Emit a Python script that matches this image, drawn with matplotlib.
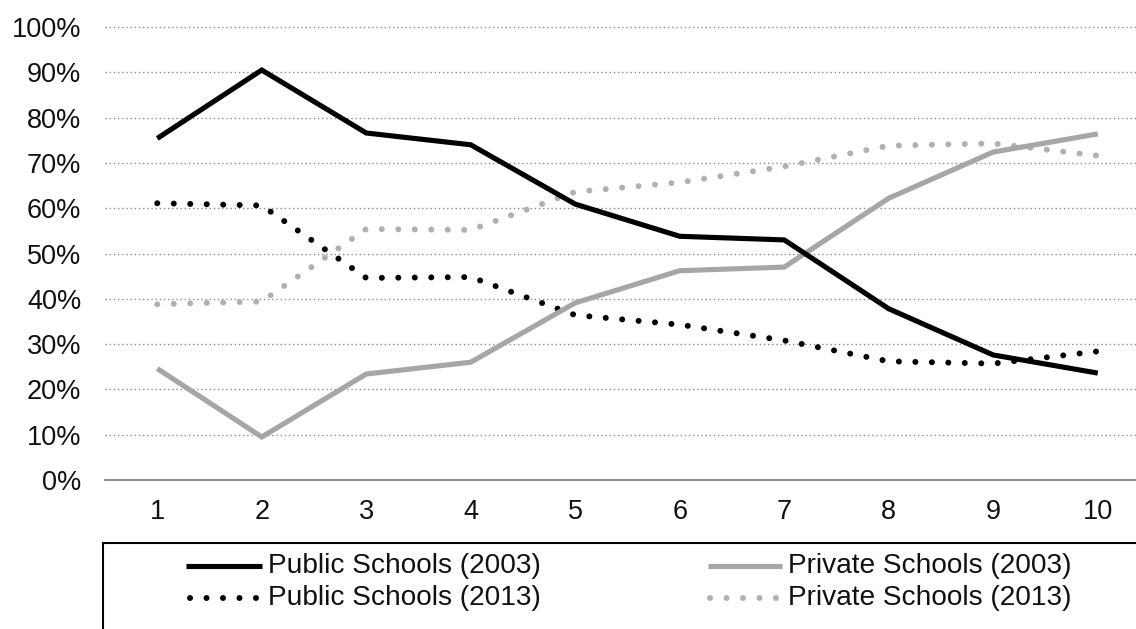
import matplotlib
matplotlib.use("Agg")
import matplotlib.pyplot as plt
from matplotlib.lines import Line2D
from matplotlib.patches import Rectangle

# Share of students by income decile, public vs private schools
deciles = ["1", "2", "3", "4", "5", "6", "7", "8", "9", "10"]
public_2003 = [75.4, 90.5, 76.6, 74.0, 60.9, 53.8, 53.0, 37.8, 27.6, 23.6]
private_2003 = [24.6, 9.5, 23.4, 26.0, 39.1, 46.2, 47.0, 62.2, 72.4, 76.4]
public_2013 = [61.1, 60.6, 44.6, 44.8, 36.4, 34.3, 30.8, 26.2, 25.7, 28.4]
private_2013 = [38.8, 39.4, 55.4, 55.2, 63.6, 65.7, 69.2, 73.8, 74.3, 71.6]
y_ticks = [0, 10, 20, 30, 40, 50, 60, 70, 80, 90, 100]

W, H = 1136, 629
plt.rcParams["font.family"] = ["Liberation Sans", "DejaVu Sans"]

fig = plt.figure(figsize=(W / 100, H / 100), dpi=100)


def fx(px):
    return px / W


def fy(py):
    return 1 - py / H


GRAY = "#a6a6a6"
DOT_GRAY = "#b0b0b0"
DOTS = (0, (0.01, 2.75))

styles = {
    "Public Schools (2003)": dict(color="black", lw=3.7, ls="-",
                                  solid_capstyle="butt", solid_joinstyle="miter"),
    "Private Schools (2003)": dict(color=GRAY, lw=3.7, ls="-",
                                   solid_capstyle="butt", solid_joinstyle="miter"),
    "Public Schools (2013)": dict(color="black", lw=4.3, ls=DOTS,
                                  dash_capstyle="round"),
    "Private Schools (2013)": dict(color=DOT_GRAY, lw=4.3, ls=DOTS,
                                   dash_capstyle="round"),
}
series = {
    "Public Schools (2003)": public_2003,
    "Private Schools (2003)": private_2003,
    "Public Schools (2013)": public_2013,
    "Private Schools (2013)": private_2013,
}

# Axes: 0% at y=480px, 100% at y=27px; ten category bins of ~104.5px from x=105
ymax = 102
bottom_px, top100_px = 480, 27
scale = (bottom_px - top100_px) / 100.0
top_px = bottom_px - ymax * scale
left_px, width_px = 105, 1045
ax = fig.add_axes([fx(left_px), fy(bottom_px), width_px / W, (bottom_px - top_px) / H])

x = list(range(len(deciles)))
draw_order = ["Public Schools (2013)", "Private Schools (2013)",
              "Private Schools (2003)", "Public Schools (2003)"]
for name in draw_order:
    ax.plot(x, series[name], zorder=3, **styles[name])

ax.set_xlim(-0.5, len(deciles) - 0.5)
ax.set_ylim(0, ymax)
ax.set_xticks(x)
ax.set_xticklabels(deciles)
ax.set_yticks(y_ticks)
ax.set_yticklabels([f"{v}%" for v in y_ticks])
ax.tick_params(axis="both", length=0, labelsize=19.5, colors="#111111")
ax.tick_params(axis="y", pad=17)
ax.tick_params(axis="x", pad=14)

for v in y_ticks[1:]:
    ax.axhline(v, color="#8a8a8a", lw=1.0, ls=(0, (1, 2)), dash_capstyle="butt", zorder=1)

for s in ("top", "right", "left"):
    ax.spines[s].set_visible(False)
ax.spines["bottom"].set_color("#868686")
ax.spines["bottom"].set_linewidth(1.3)

# Legend panel
box_left, box_top = 103, 543
fig.patches.append(Rectangle((fx(box_left), fy(H + 20)), fx(W + 40 - box_left),
                             (H + 20 - box_top) / H, transform=fig.transFigure,
                             fill=False, edgecolor="black", lw=1.5))

legend_rows = [
    ("Public Schools (2003)", 186, 262, 268, 566),
    ("Private Schools (2003)", 708, 782, 788, 566),
    ("Public Schools (2013)", 190, 258, 268, 598),
    ("Private Schools (2013)", 710, 776, 788, 598),
]
for name, x0, x1, tx, ty in legend_rows:
    fig.lines.append(Line2D([fx(x0), fx(x1)], [fy(ty), fy(ty)],
                            transform=fig.transFigure, **styles[name]))
    fig.text(fx(tx), fy(ty), name, fontsize=20.2, color="#111111",
             ha="left", va="center")

fig.savefig("out.png", dpi=100)
